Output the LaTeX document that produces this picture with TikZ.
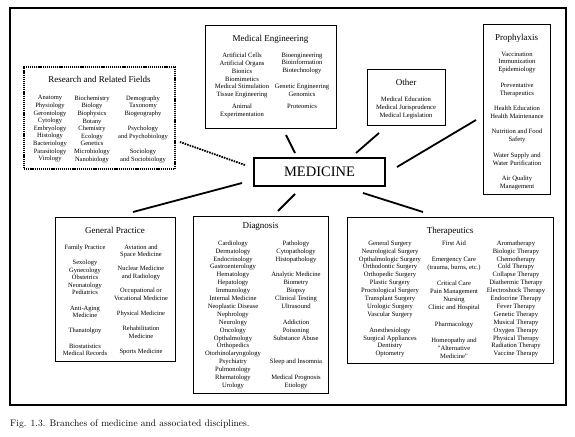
\documentclass[tikz,border=0pt]{standalone}
\usepackage{fontspec}
\newfontfamily\tnr{Liberation Serif}
\usetikzlibrary{positioning}

\tikzset{
  box/.style={draw, line width=0.8pt, inner sep=0pt},
  fieldbox/.style={draw, line width=1.2pt, dash pattern=on 1.2pt off 0.9pt, inner sep=0pt},
  hubbox/.style={draw, line width=2.4pt, inner sep=0pt, font=\tnr\fontsize{14.5}{16}\selectfont},
  frame/.style={draw, line width=1.6pt, inner sep=0pt},
  title/.style={inner sep=0pt, font=\tnr\fontsize{9}{10}\selectfont},
  col/.style={inner sep=0pt, anchor=north, yshift=2.5pt, align=center, font=\tnr\fontsize{6.6}{7.9}\selectfont},
  tightcol/.style={col, font=\tnr\fontsize{6.5}{7.6}\selectfont},
  spoke/.style={line width=1.8pt},
  dotspoke/.style={spoke, dash pattern=on 1.6pt off 1pt},
}

\begin{document}
\begin{tikzpicture}[x=1pt, y=-1pt]
\useasboundingbox (0,0) rectangle (575,436);
\node[frame, minimum width=556pt, minimum height=397pt] (fr) at (288,206.5) {};

% centre
\node[hubbox, minimum width=131pt, minimum height=28pt] (med) at (319.5,172) {MEDICINE};

% research and related fields
\node[fieldbox, minimum width=151pt, minimum height=102pt] (rf) at (99.5,118) {};
\node[title, below=10pt of rf.north] (rf-t) {Research and Related Fields};
\node[tightcol] (rf-1) at (50,98) {Anatomy\\Physiology\\Gerontology\\Cytology\\Embryology\\Histology\\Bacteriology\\Parasitology\\Virology};
\node[tightcol] (rf-2) at (92,98) {Biochemistry\\Biology\\Biophysics\\Botany\\Chemistry\\Ecology\\Genetics\\Microbiology\\Nanobiology};
\node[tightcol] (rf-3) at (143,98) {Demography\\Taxonomy\\Biogeography\\[7.6pt]Psychology\\and Psychobiology\\[7.6pt]Sociology\\and Sociobiology};

% medical engineering
\node[box, minimum width=131pt, minimum height=103pt] (me) at (270.5,76.5) {};
\node[title, below=10pt of me.north] (me-t) {Medical Engineering};
\node[col] (me-1) at (242,55) {Artificial Cells\\Artificial Organs\\Bionics\\Biomimetics\\Medical Stimulation\\Tissue Engineering\\[4pt]Animal\\Experimentation};
\node[col] (me-2) at (302,55) {Bioengineering\\Bioinformation\\Biotechnology\\[7.9pt]Genetic Engineering\\Genomics\\[4pt]Proteomics};

% other
\node[box, minimum width=78pt, minimum height=56pt] (ot) at (406,97) {};
\node[title, below=10pt of ot.north] (ot-t) {Other};
\node[col] (ot-1) at (406,99) {Medical Education\\Medical Jurisprudence\\Medical Legislation};

% prophylaxis
\node[box, minimum width=67pt, minimum height=170pt] (pr) at (516.5,109) {};
\node[title, below=10pt of pr.north] (pr-t) {Prophylaxis};
\node[col] (pr-1) at (517,54) {Vaccination\\Immunization\\Epidemiology\\[7.5pt]Preventative\\Therapeutics\\[7.5pt]Health Education\\Health Maintenance\\[7.5pt]Nutrition and Food\\Safety\\[7.5pt]Water Supply and\\Water Purification\\[7.5pt]Air Quality\\Management};

% general practice
\node[box, minimum width=120pt, minimum height=144pt] (gp) at (115,289) {};
\node[title, below=10pt of gp.north] (gp-t) {General Practice};
\node[tightcol] (gp-1) at (85,247) {Family Practice\\[7.6pt]Sexology\\Gynecology\\Obstetrics\\Neonatology\\Pediatrics\\[7.6pt]Anti-Aging\\Medicine\\[7.6pt]Thanatolgoy\\[7.6pt]Biostatistics\\Medical Records};
\node[tightcol] (gp-2) at (141,247) {Aviation and\\Space Medicine\\[6.4pt]Nuclear Medicine\\and Radiology\\[6.4pt]Occupational or\\Vocational Medicine\\[7.6pt]Physical Medicine\\[7.6pt]Rehabilitation\\Medicine\\[7.6pt]Sports Medicine};

% diagnosis
\node[box, minimum width=135pt, minimum height=177pt] (dg) at (260.5,304.5) {};
\node[title, below=7pt of dg.north] (dg-t) {Diagnosis};
\node[col] (dg-1) at (233,243) {Cardiology\\Dermatology\\Endocrinology\\Gastroenterology\\Hematology\\Hepatology\\Immunology\\Internal Medicine\\Neoplastic Disease\\Nephrology\\Neurology\\Oncology\\Opthalmology\\Orthopedics\\Otorhinolaryngology\\Psychiatry\\Pulmonology\\Rhematology\\Urology};
\node[col] (dg-2) at (296,243) {Pathology\\Cytopathology\\Histopathology\\[7.9pt]Analytic Medicine\\Biometry\\Biopsy\\Clinical Testing\\Ultrasound\\[7.9pt]Addiction\\Poisoning\\Substance Abuse\\[15.8pt]Sleep and Insomnia\\[7.9pt]Medical Prognosis\\Etiology};

% therapeutics
\node[box, minimum width=206pt, minimum height=146pt] (th) at (450,290) {};
\node[title, below=10pt of th.north] (th-t) {Therapeutics};
\node[col] (th-1) at (390,243) {General Surgery\\Neurological Surgery\\Opthalmologic Surgery\\Orthodontic Surgery\\Orthopedic Surgery\\Plastic Surgery\\Proctological Surgery\\Transplant Surgery\\Urologic Surgery\\Vascular Surgery\\[7.9pt]Anesthesiology\\Surgical Appliances\\Dentistry\\Optometry};
\node[col] (th-2) at (454,243) {First Aid\\[8.5pt]Emergency Care\\(trauma, burns, etc.)\\[8.5pt]Critical Care\\Pain Management\\Nursing\\Clinic and Hospital\\[8.5pt]Pharmacology\\[8.5pt]Homeopathy and\\"Alternative\\Medicine"};
\node[col] (th-3) at (516,243) {Aromatherapy\\Biologic Therapy\\Chemotherapy\\Cold Therapy\\Collapse Therapy\\Diathermic Therapy\\Electroshock Therapy\\Endocrine Therapy\\Fever Therapy\\Genetic Therapy\\Musical Therapy\\Oxygen Therapy\\Physical Therapy\\Radiation Therapy\\Vaccine Therapy};

% spokes
\coordinate (rf-a) at (245,165); \coordinate (rf-b) at (180,142);
\coordinate (me-a) at (295,153); \coordinate (me-b) at (286,135);
\coordinate (ot-a) at (356,153); \coordinate (ot-b) at (379,133);
\coordinate (pr-a) at (397,167); \coordinate (pr-b) at (476,120);
\coordinate (gp-a) at (242,183); \coordinate (gp-b) at (133,212);
\coordinate (dg-a) at (295,194); \coordinate (dg-b) at (278,211);
\coordinate (th-a) at (363,193); \coordinate (th-b) at (423,212);
\draw[dotspoke] (rf-a) -- (rf-b);
\foreach \s in {me,ot,pr,gp,dg,th}
  \draw[spoke] (\s-a) -- (\s-b);

\node[anchor=west, inner sep=0pt, font=\fontsize{9.5}{11}\selectfont] (cap) at (10,424) {Fig. 1.3. Branches of medicine and associated disciplines.};
\end{tikzpicture}
\end{document}
